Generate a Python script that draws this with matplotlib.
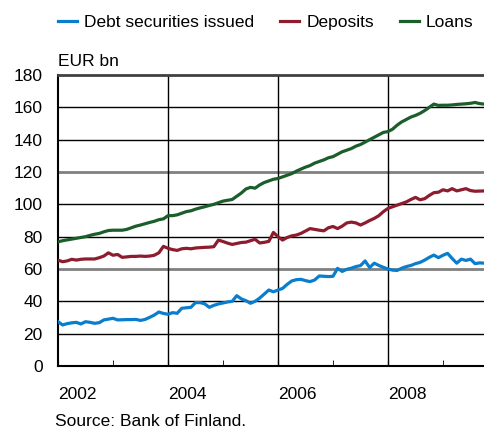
import numpy as np
import matplotlib
matplotlib.use("Agg")
import matplotlib.pyplot as plt

plt.rcParams['font.family'] = ['Liberation Sans', 'DejaVu Sans']

# monthly data, Jan 2002 - Oct 2009 (EUR bn)
start_year = 2002
loans = [76.8, 77.5, 78, 78.5, 79, 79.5, 80, 80.8, 81.5, 82, 83, 83.8,
         84, 84, 84, 84.5, 85.5, 86.5, 87.2, 88, 88.8, 89.5, 90.5, 91,
         93, 93, 93.5, 94.5, 95.5, 96, 97, 97.8, 98.5, 99.3, 100, 101,
         102, 102.5, 103, 105, 107, 109.5, 110.5, 110, 112, 113.5, 114.5, 115.5,
         116, 117, 118, 119, 120.5, 121.8, 123, 124, 125.5, 126.5, 127.5, 128.8,
         129.5, 131, 132.5, 133.5, 134.5, 136, 137, 138.5, 140, 141.5, 143, 144.5,
         145, 146.5, 149, 151, 152.5, 154, 155, 156.3, 158, 160, 162, 161.2,
         161.3, 161.3, 161.5, 161.8, 162, 162.2, 162.5, 163, 162.3, 162]
deposits = [65.5, 64.5, 65, 66, 65.5, 66, 66.2, 66.2, 66.2, 67, 68, 70,
            68.5, 69, 67.2, 67.5, 67.8, 67.8, 68, 67.8, 68, 68.5, 70, 74,
            72.8, 72, 71.5, 72.5, 72.8, 72.5, 73, 73.2, 73.4, 73.5, 73.8, 77.9,
            77, 76, 75.2, 75.8, 76.4, 76.6, 77.5, 78.4, 76.1, 76.5, 77.1, 82.6,
            80, 77.9, 79.5, 80.5, 81, 82, 83.5, 85, 84.5, 84, 83.6, 85.5,
            86.3, 85, 86.5, 88.5, 89, 88.5, 87.2, 88.5, 90, 91.3, 93, 95.5,
            97.5, 98.5, 99.5, 100.5, 101.5, 103, 104.3, 102.8, 103.5, 105.5, 107.2, 107.5,
            109, 108.3, 109.7, 108.3, 109, 109.7, 108.5, 108.1, 108.2, 108.3]
debt = [27.4, 25.4, 26.2, 26.7, 27, 26, 27.4, 27, 26.4, 26.8, 28.5, 29,
        29.5, 28.5, 28.6, 28.7, 28.7, 28.8, 28.2, 28.8, 30.1, 31.5, 33.4, 32.5,
        32, 33, 32.6, 35.7, 36, 36.3, 39.2, 39.2, 38.5, 36.3, 37.5, 38.4,
        39, 39.6, 40, 43.5, 41.5, 40.4, 38.8, 40, 42, 44.5, 47, 45.9,
        47, 48, 50.5, 52.6, 53.4, 53.6, 52.8, 52.2, 53.2, 55.7, 55.5, 55.3,
        55.5, 60.4, 58.5, 59.8, 60.5, 61.5, 62.1, 65, 60.9, 63.6, 62.2, 61,
        60, 59.3, 59.1, 60.5, 61.5, 62.2, 63.3, 64.1, 65.5, 67.2, 68.6, 67,
        68.5, 69.7, 66.5, 63.6, 66.1, 65.3, 66.1, 63.3, 63.8, 63.6]
year_labels = ['2002', '2004', '2006', '2008']

t = start_year + np.arange(len(loans)) / 12.0
fs = 12.5

fig = plt.figure(figsize=(4.85, 4.28), dpi=100)
ax = fig.add_axes([58 / 485, 1 - 366 / 428, 427 / 485, 291 / 428])

# horizontal gridlines (60 and 120 drawn grey and thicker)
for yv in range(20, 180, 20):
    if yv in (60, 120):
        ax.axhline(yv, color='#808080', lw=2.0, zorder=1)
    else:
        ax.axhline(yv, color='black', lw=1.0, zorder=1)
for xv in (2004, 2006, 2008):
    ax.axvline(xv, color='black', lw=1.0, zorder=1)

ax.plot(t, debt, color='#0a7dcd', lw=2.3, label='Debt securities issued', zorder=3)
ax.plot(t, deposits, color='#8c1c2e', lw=2.3, label='Deposits', zorder=3)
ax.plot(t, loans, color='#1b5e2b', lw=2.3, label='Loans', zorder=3)

ax.set_xlim(2002, 2002 + 427 / 55)
ax.set_ylim(0, 180)
ax.set_yticks(range(0, 181, 20))
ax.tick_params(axis='y', length=0, pad=11, labelsize=fs)

ax.set_xticks([2002, 2004, 2006, 2008])
ax.set_xticklabels(year_labels)
ax.set_xticks([2003, 2005, 2007, 2009], minor=True)
ax.tick_params(axis='x', which='both', direction='in', length=4, pad=15, labelsize=fs)
for lab in ax.get_xticklabels():
    lab.set_ha('left')

ax.spines['right'].set_visible(False)
ax.spines['top'].set_color('#404040')
ax.spines['top'].set_linewidth(2.0)
ax.spines['left'].set_linewidth(1.5)
ax.spines['bottom'].set_linewidth(1.5)

fig.text(58 / 485, 1 - 61 / 428, 'EUR bn', fontsize=fs, va='center', ha='left')
fig.text(55 / 485, 1 - 422 / 428, 'Source: Bank of Finland.', fontsize=fs, va='center', ha='left')

fig.legend(loc='center left', bbox_to_anchor=(58 / 485, 1 - 22 / 428), ncol=3,
           frameon=False, fontsize=fs, handlelength=1.1, handletextpad=0.4,
           columnspacing=1.5, borderpad=0, borderaxespad=0)

fig.savefig('out.png', dpi=100)
